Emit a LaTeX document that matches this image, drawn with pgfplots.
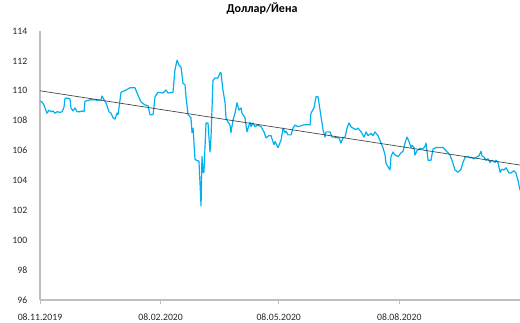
\documentclass[border=0pt]{standalone}
\usepackage{fontspec}
\setmainfont{Carlito}
\usepackage{pgfplots}
\pgfplotsset{compat=1.18}
\definecolor{usdjpy}{RGB}{0,176,240}
\definecolor{axgray}{RGB}{191,191,191}
\begin{document}
\begin{tikzpicture}
\begin{axis}[
  name=ax,
  scale only axis,
  width=360pt, height=201.75pt,
  xmin=0, xmax=366, ymin=96, ymax=114,
  axis lines*=left,
  axis line style={axgray, line width=0.8pt},
  xtick={0,92,182,274},
  xticklabels={08.11.2019,08.02.2020,08.05.2020,08.08.2020},
  ytick={96,98,...,114},
  tick align=outside,
  major tick length=3pt,
  xtick style={axgray, line width=0.6pt},
  ytick style={draw=none},
  /pgf/number format/assume math mode=true,
  ticklabel style={font=\fontsize{7.3}{8}\selectfont, text=black!85},
  yticklabel style={xshift=-3pt},
  xticklabel style={yshift=-4pt},
  title={Доллар/Йена},
  title style={at={(0.4625,1)}, anchor=center, yshift=10.5pt, font=\bfseries\fontsize{9}{10}\selectfont},
  clip=false,
]
\addplot[usdjpy, line width=0.9pt, line join=round] coordinates {
(0,109.3) (1.5,109.25) (3,109.05) (3.8,108.85) (5.3,108.5) (6.9,108.7) (8.4,108.6) (9.9,108.65) (11.4,108.5) (13,108.6)
(15.3,108.55) (16.8,108.6) (18.3,108.9) (19.1,109.5) (21.4,109.5) (22.9,109.45) (23.6,108.85) (25.2,108.65) (26.7,108.85) (28.2,108.6)
(30.5,108.6) (32,108.65) (33.6,108.6) (34.3,109.3) (36.6,109.35) (38.9,109.4) (41.9,109.4) (44.2,109.35) (46.5,109.4) (47.3,109.65)
(48.8,109.4) (50.3,109.2) (52.6,108.6) (54.1,108.5) (55.7,108.2) (57.2,108.1) (58.7,108.5) (59.5,108.4) (61.8,109.9) (65.6,110.05)
(68.6,110.2) (72.4,110.2) (74.7,109.7) (77,109.25) (80.1,109.05) (82.4,109.0) (83.9,108.4) (86.2,108.4) (87.7,109.6) (90,109.9)
(93.8,109.85) (96.1,110.05) (97.6,109.85) (101.4,109.9) (102.9,111.4) (104.5,112.05) (106,111.7) (107.5,111.6) (109,110.5) (110.6,110.4)
(111.3,109.6) (112.9,108.4) (115.1,108.2) (115.9,107.2) (116.7,107.5) (118.2,105.4) (120.5,105.3) (121.2,105.3) (122.8,102.3) (123.5,105.6)
(124.3,104.55) (125,104.55) (126.6,107.85) (128.1,107.85) (129.6,105.9) (130.4,106.9) (131.9,110.7) (133.4,110.85) (135.7,110.85) (137.3,111.2)
(138,111.2) (139.5,110.05) (141.1,109.2) (141.8,108.2) (143.4,107.9) (144.9,107.7) (145.6,107.2) (147.2,108.05) (148.7,108.5) (150.2,109.2)
(151.7,108.7) (153.3,108.85) (154,108.5) (156.3,108.2) (157.8,107.25) (160.1,107.9) (160.9,107.6) (162.4,107.85) (163.9,107.6) (166.2,107.7)
(168.5,107.6) (170.8,107.25) (172.3,106.85) (174.6,107.0) (176.1,107.0) (178.4,106.4) (179.2,106.6) (181.5,106.2) (183.8,106.7) (185.3,107.5)
(186.8,107.2) (187.6,107.3) (189.1,107.05) (191.4,107.05) (192.9,107.5) (194.4,107.7) (196.7,107.6) (200.5,107.7) (204.4,107.75) (205.9,107.7)
(206.6,108.5) (208.9,108.85) (210.5,109.6) (212,109.6) (214.3,108.25) (215.8,107.4) (217.3,106.9) (218.1,107.25) (221.1,107.25) (222.7,106.9)
(224.2,106.9) (225.7,106.85) (228,106.85) (229.5,106.5) (231,106.85) (232.6,106.9) (234.1,107.5) (235.6,107.85) (237.1,107.6) (238.7,107.5)
(240.9,107.4) (242.5,107.5) (244.8,107.25) (247.1,106.9) (248.6,107.25) (250.1,107.0) (252.4,107.15) (253.9,107.0) (255.4,107.25) (257.7,107.0)
(260,106.5) (261.5,106.2) (263.1,105.7) (263.8,105.15) (265.4,104.9) (266.9,104.7) (267.6,105.6) (269.2,105.9) (270.7,105.7) (273,105.6)
(275.3,105.85) (276.8,105.95) (278.3,106.5) (279.8,106.9) (281.4,106.6) (282.9,106.2) (283.7,106.35) (285.2,106.2) (285.9,105.7) (287.5,106.0)
(289.8,106.15) (292,106.1) (293.6,106.3) (294.3,106.5) (295.9,105.35) (298.1,105.35) (299.7,106.1) (302,106.2) (305,106.2) (307.3,106.2)
(309.6,106.0) (312.6,105.7) (314.9,105.15) (316.4,104.7) (318.7,104.55) (321,104.75) (322.5,105.2) (324.1,105.55) (326.4,105.6) (327.9,105.5)
(328.6,105.55) (330.9,105.45) (332.5,105.55) (334.7,105.65) (336.3,105.95) (337,105.65) (338.6,105.55) (340.1,105.35) (341.6,105.45) (343.1,105.2)
(344.7,105.35) (346.9,105.2) (347.7,105.35) (349.2,105.2) (350.8,104.55) (352.3,104.75) (353.8,104.7) (355.3,104.85) (357.6,104.5) (359.1,104.5)
(361.4,104.65) (362.9,104.5) (364.5,104.0) (366,103.35)
};
\addplot[black!75, line width=0.5pt] coordinates {(0,110.0) (366,105.03)};
\end{axis}
\pgfresetboundingbox
\path ([shift={(-30pt,-17.25pt)}]ax.south west) rectangle ([shift={(0pt,23.25pt)}]ax.north east);
\end{tikzpicture}
\end{document}
